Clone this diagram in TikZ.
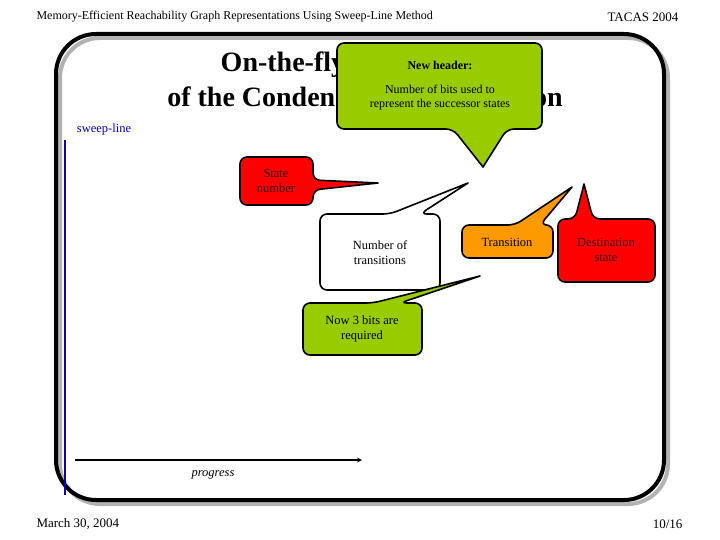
\documentclass[tikz,border=0pt]{standalone}
\usepackage{fontspec}
\setmainfont{Liberation Serif}
\begin{document}
\begin{tikzpicture}[x=1pt,y=-1pt,
  call/.style={draw=black,line width=1.6pt,rounded corners=7pt,line join=round},
  lbl/.style={align=center,font=\fontsize{12.5}{15}\selectfont}]
\useasboundingbox (0,0) rectangle (720,540);
\node[anchor=west,font=\fontsize{12}{14}\selectfont] (hd) at (33,17) {Memory-Efficient Reachability Graph Representations Using Sweep-Line Method};
\node[font=\fontsize{13}{14}\selectfont] (hr) at (643,17) {TACAS 2004};
\node[anchor=west,font=\fontsize{13}{14}\selectfont] (fl) at (33,524) {March 30, 2004};
\node[anchor=east,font=\fontsize{13}{14}\selectfont] (fr) at (686,524) {10/16};
% frame
\draw[gray!60,line width=4pt,rounded corners=40pt] (60,38) rectangle (668,504);
\draw[black,line width=4pt,rounded corners=40pt] (56,34) rectangle (664,500);
% title
\node[font=\bfseries\fontsize{28}{30}\selectfont] (t1) at (365,65) {On-the-fly Construction};
\node[font=\bfseries\fontsize{28}{30}\selectfont] (t2) at (365,100) {of the Condensed Representation};
% sweep line & progress
\node[text=blue!70!black,font=\fontsize{12.5}{14}\selectfont] (sw) at (104,129) {sweep-line};
\coordinate (s1) at (65,140); \coordinate (s2) at (65,495);
\draw[blue!70!black,line width=2.5pt] (s1) -- (s2);
\coordinate (p1) at (75,460); \coordinate (p2) at (362,460);
\draw[-stealth,line width=1.2pt] (p1) -- (p2);
\node[font=\itshape\fontsize{12.5}{14}\selectfont] (pg) at (213,475) {progress};
% callouts
\definecolor{cgreen}{RGB}{153,204,0}
\definecolor{cred}{RGB}{255,0,0}
\definecolor{corange}{RGB}{255,153,0}
% header
\draw[call,fill=cgreen] (337,43) -- (542,43) -- (542,129) -- (507,129) [sharp corners] -- (483,167) [rounded corners=7pt] -- (453,129) -- (337,129) -- cycle;
\node[lbl,font=\bfseries\fontsize{12}{14}\selectfont] (nh) at (440,65) {New header:};
\node[lbl,font=\fontsize{12}{14}\selectfont] (nb) at (440,98) {Number of bits used to\\represent the successor states};
% state number
\draw[call,fill=cred] (240,157) -- (313,157) -- (313,180) [sharp corners] -- (378,183) [rounded corners=7pt] -- (313,190) -- (313,205) -- (240,205) -- cycle;
\node[lbl,text=black!80!red] (sn) at (276,181) {State\\number};
% number of transitions
\draw[call,fill=white] (320,214) -- (390,214) [sharp corners] -- (468,183) [rounded corners=7pt] -- (420,214) -- (440,214) -- (440,290) -- (320,290) -- cycle;
\node[lbl] (nt) at (380,253) {Number of\\transitions};
% transition
\draw[call,fill=corange] (462,225) -- (515,225) [sharp corners] -- (572,187) [rounded corners=7pt] -- (540,225) -- (553,225) -- (553,258) -- (462,258) -- cycle;
\node[lbl] (tr) at (507,242) {Transition};
% destination
\draw[call,fill=cred] (558,219) -- (575,219) [sharp corners] -- (584,184) [rounded corners=7pt] -- (593,219) -- (655,219) -- (655,282) -- (558,282) -- cycle;
\node[lbl,text=black!70!red] (ds) at (606,250) {Destination\\state};
% now 3 bits
\draw[call,fill=cgreen] (303,303) -- (373,303) [sharp corners] -- (480,276) [rounded corners=7pt] -- (400,303) -- (422,303) -- (422,355) -- (303,355) -- cycle;
\node[lbl] (n3) at (362,329) {Now 3 bits are\\required};
\end{tikzpicture}
\end{document}
